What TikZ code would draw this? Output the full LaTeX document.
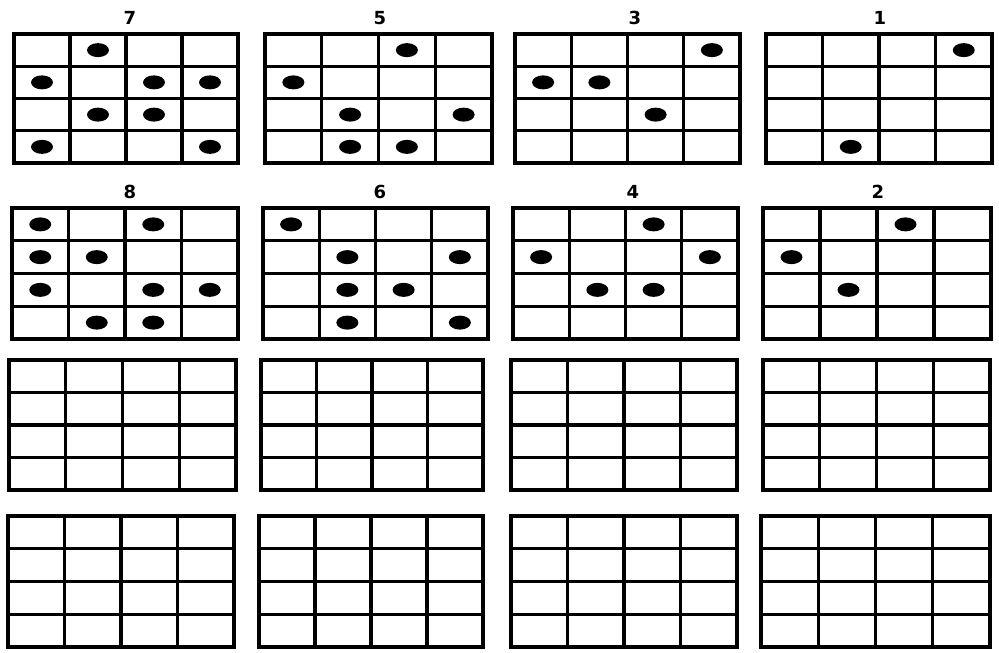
\documentclass[tikz,border=0pt]{standalone}
\usepackage{fontspec}
\setmainfont{DejaVu Sans}
\tikzset{
  gl/.style={line width=3.2pt, line join=miter, line cap=rect},
  dotmark/.style={fill=black},
  lbl/.style={font=\bfseries\fontsize{18}{18}\selectfont, inner sep=0pt}
}
\newcommand\mygrid[4]{%
  \draw[gl] (#1,#2) rectangle (#3,#4);
  \foreach \i in {1,2,3}{%
    \draw[gl] ({#1+\i*(#3-#1)/4},#2) -- ({#1+\i*(#3-#1)/4},#4);
    \draw[gl] (#1,{#2+\i*(#4-#2)/4}) -- (#3,{#2+\i*(#4-#2)/4});
  }%
}
\newcommand\mydots[5]{%
  \foreach \c/\r in {#5}
    \fill[dotmark] ({#1+(\c-0.5)*(#3-#1)/4},{#2+(\r-0.5)*(#4-#2)/4}) ellipse (11pt and 7pt);
}
\begin{document}
\begin{tikzpicture}[x=1pt,y=-1pt]
\useasboundingbox (0,0) rectangle (999,653);
% row 1
\mygrid{14}{34}{238}{163}
\mygrid{265}{34}{492}{163}
\mygrid{515}{34}{740}{163}
\mygrid{766}{34}{992}{163}
\mydots{14}{34}{238}{163}{2/1,1/2,3/2,4/2,2/3,3/3,1/4,4/4}
\mydots{265}{34}{492}{163}{3/1,1/2,2/3,4/3,2/4,3/4}
\mydots{515}{34}{740}{163}{4/1,1/2,2/2,3/3}
\mydots{766}{34}{992}{163}{4/1,2/4}
\node[lbl] (l7) at (130,18) {7};
\node[lbl] (l5) at (380,18) {5};
\node[lbl] (l3) at (635,18) {3};
\node[lbl] (l1) at (880,18) {1};
% row 2
\mygrid{12}{208}{238}{339}
\mygrid{263}{208}{488}{339}
\mygrid{513}{208}{738}{339}
\mygrid{763}{208}{991}{339}
\mydots{12}{208}{238}{339}{1/1,3/1,1/2,2/2,1/3,3/3,4/3,2/4,3/4}
\mydots{263}{208}{488}{339}{1/1,2/2,4/2,2/3,3/3,2/4,4/4}
\mydots{513}{208}{738}{339}{3/1,1/2,4/2,2/3,3/3}
\mydots{763}{208}{991}{339}{3/1,1/2,2/3}
\node[lbl] (l8) at (130,192) {8};
\node[lbl] (l6) at (380,192) {6};
\node[lbl] (l4) at (633,192) {4};
\node[lbl] (l2) at (878,192) {2};
% row 3
\mygrid{9}{360}{236}{490}
\mygrid{261}{360}{483}{490}
\mygrid{511}{360}{737}{490}
\mygrid{763}{360}{990}{490}
% row 4
\mygrid{8}{516}{234}{647}
\mygrid{259}{516}{483}{647}
\mygrid{511}{516}{737}{647}
\mygrid{761}{516}{990}{647}
\end{tikzpicture}
\end{document}
